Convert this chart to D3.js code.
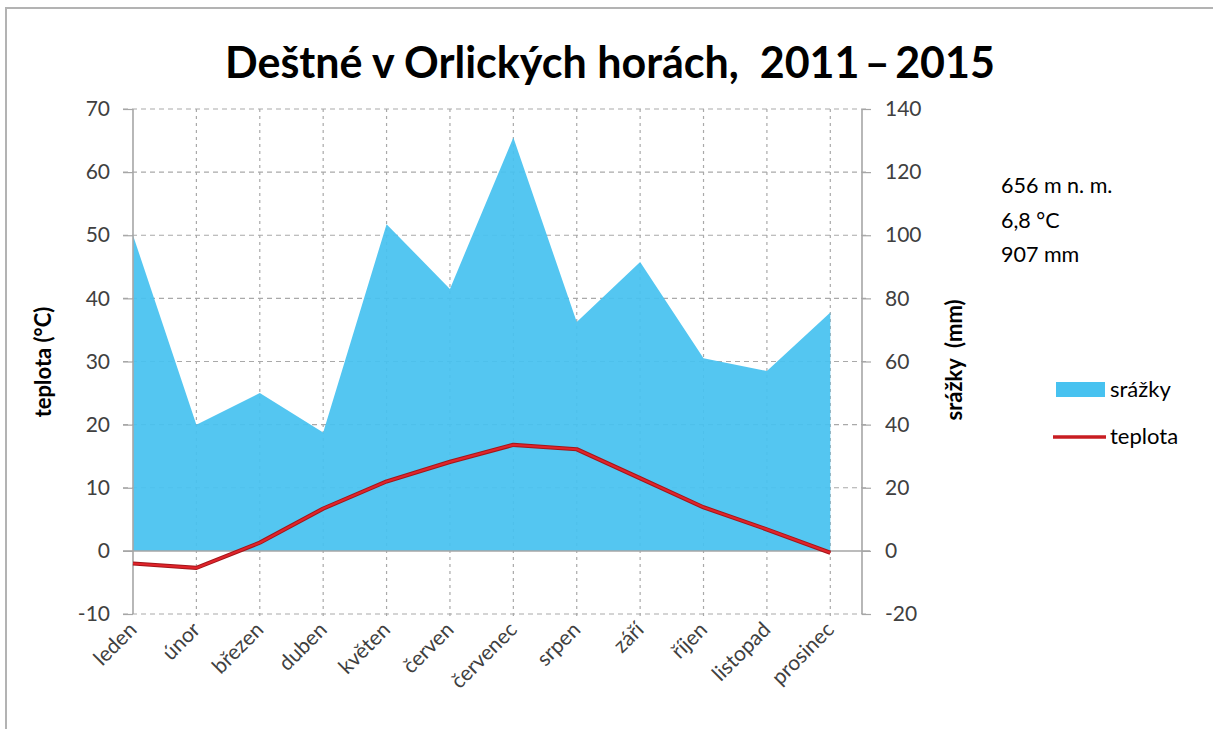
<!DOCTYPE html>
<html>
<head>
<meta charset="utf-8">
<script src="https://cdn.jsdelivr.net/npm/d3@7"></script>
<style>
  html, body { margin: 0; padding: 0; background: #fff; }
  svg { display: block; font-family: Lato, "Open Sans", sans-serif; }
</style>
</head>
<body>
<svg id="chart" width="1213" height="729"></svg>
<script>
// Monthly climate normals, Deštné v Orlických horách (2011–2015)
const months = ["leden", "únor", "březen", "duben", "květen", "červen",
                "červenec", "srpen", "září", "říjen", "listopad", "prosinec"];
const precipitation = [100, 40, 50, 37.5, 103.5, 83, 131, 72.5, 91.5, 61, 57, 75.5]; // mm
const temperature = [-2, -2.7, 1.3, 6.7, 11.0, 14.1, 16.8, 16.1, 11.5, 6.9, 3.4, -0.3]; // °C
const tempTicks = [-10, 0, 10, 20, 30, 40, 50, 60, 70];
const precTicks = [-20, 0, 20, 40, 60, 80, 100, 120, 140];
const stationInfo = ["656 m n. m.", "6,8 °C", "907 mm"];
const titleText = "Deštné v Orlických horách,  2011\u2009–\u20092015";

const svg = d3.select("#chart");
const plot = { left: 133, right: 862, top: 109, bottom: 614 };
const step = (plot.right - plot.left) / (months.length - 0.5);

const x = d3.scalePoint().domain(months)
  .range([plot.left, plot.left + step * (months.length - 1)]);
const yT = d3.scaleLinear().domain([-10, 70]).range([plot.bottom, plot.top]);
const yP = d3.scaleLinear().domain([-20, 140]).range([plot.bottom, plot.top]);

const gridColor = "#a9a9a9";
const axisColor = "#a6a6a6";
const labelColor = "#404040";
const plainNumber = d => String(d); // hyphen-minus for negatives

// outer frame (top and left edges)
svg.append("path")
  .attr("d", "M6,729 V8 H1213")
  .attr("fill", "none").attr("stroke", "#b3b3b3").attr("stroke-width", 2);

// title
svg.append("text")
  .attr("x", 610).attr("y", 78)
  .attr("text-anchor", "middle")
  .attr("font-size", 43).attr("font-weight", 700)
  .attr("fill", "#000")
  .style("white-space", "pre")
  .text(titleText);

// horizontal gridlines
svg.append("g")
  .selectAll("line").data(tempTicks.filter(d => d !== 0)).join("line")
  .attr("x1", plot.left - 10).attr("x2", plot.right + 8)
  .attr("y1", d => yT(d)).attr("y2", d => yT(d))
  .attr("stroke", gridColor).attr("stroke-width", 1.2)
  .attr("stroke-dasharray", "5,4");

// vertical gridlines at each month
svg.append("g")
  .selectAll("line").data(months.slice(1)).join("line")
  .attr("x1", d => x(d)).attr("x2", d => x(d))
  .attr("y1", plot.top).attr("y2", plot.bottom + 6)
  .attr("stroke", gridColor).attr("stroke-width", 1.2)
  .attr("stroke-dasharray", "3,4");

// precipitation area
const area = d3.area()
  .x((d, i) => x(months[i]))
  .y0(yP(0))
  .y1(d => yP(d));
svg.append("path")
  .datum(precipitation)
  .attr("d", area)
  .attr("fill", "#47c2f0")
  .attr("fill-opacity", 0.93);

// zero baseline
svg.append("line")
  .attr("x1", plot.left - 10).attr("x2", plot.right + 8)
  .attr("y1", yT(0)).attr("y2", yT(0))
  .attr("stroke", axisColor).attr("stroke-width", 1.5);

// axis lines
[plot.left, plot.right].forEach(px => {
  svg.append("line")
    .attr("x1", px).attr("x2", px)
    .attr("y1", plot.top).attr("y2", plot.bottom)
    .attr("stroke", axisColor).attr("stroke-width", 1.6);
});

// left axis (temperature)
const leftAxis = svg.append("g")
  .attr("transform", `translate(${plot.left},0)`)
  .call(d3.axisLeft(yT).tickValues(tempTicks).tickFormat(plainNumber).tickSize(10).tickPadding(13));
leftAxis.select(".domain").remove();
leftAxis.selectAll(".tick line").attr("stroke", axisColor).attr("stroke-width", 1.2);
leftAxis.selectAll(".tick text")
  .attr("font-family", "Lato, sans-serif").attr("font-size", 21).attr("fill", labelColor);

// right axis (precipitation)
const rightAxis = svg.append("g")
  .attr("transform", `translate(${plot.right},0)`)
  .call(d3.axisRight(yP).tickValues(precTicks).tickFormat(plainNumber).tickSize(9).tickPadding(14));
rightAxis.select(".domain").remove();
rightAxis.selectAll(".tick line").attr("stroke", axisColor).attr("stroke-width", 1.2);
rightAxis.selectAll(".tick text")
  .attr("font-family", "Lato, sans-serif").attr("font-size", 21).attr("fill", labelColor);

// month labels, rotated
svg.append("g")
  .selectAll("text").data(months).join("text")
  .attr("transform", d => `translate(${x(d) + 5},${plot.bottom + 17}) rotate(-45)`)
  .attr("text-anchor", "end")
  .attr("font-size", 21)
  .attr("fill", labelColor)
  .text(d => d);

// temperature line
const line = d3.line()
  .x((d, i) => x(months[i]))
  .y(d => yT(d));
svg.append("path")
  .datum(temperature)
  .attr("d", line)
  .attr("fill", "none")
  .attr("stroke", "#a3161a").attr("stroke-width", 4.2)
  .attr("stroke-linejoin", "round");
svg.append("path")
  .datum(temperature)
  .attr("d", line)
  .attr("fill", "none")
  .attr("stroke", "#e0242b").attr("stroke-width", 2.2)
  .attr("stroke-linejoin", "round");

// axis titles
svg.append("text")
  .attr("transform", "translate(51,362) rotate(-90)")
  .attr("text-anchor", "middle")
  .attr("font-size", 22).attr("font-weight", 700).attr("fill", "#000")
  .text("teplota (°C)");
svg.append("text")
  .attr("transform", "translate(962,360) rotate(-90)")
  .attr("text-anchor", "middle")
  .attr("font-size", 22).attr("font-weight", 700).attr("fill", "#000")
  .style("white-space", "pre")
  .text("srážky  (mm)");

// station info
svg.append("g")
  .selectAll("text").data(stationInfo).join("text")
  .attr("x", 1001)
  .attr("y", (d, i) => 193 + i * 34.5)
  .attr("font-size", 21.5).attr("fill", "#000")
  .text(d => d);

// legend
const legend = svg.append("g");
legend.append("rect")
  .attr("x", 1056).attr("y", 382).attr("width", 49).attr("height", 15)
  .attr("fill", "#47c2f0");
legend.append("text")
  .attr("x", 1110).attr("y", 397)
  .attr("font-size", 22).attr("fill", "#000")
  .text("srážky");
legend.append("line")
  .attr("x1", 1053).attr("x2", 1106).attr("y1", 437).attr("y2", 437)
  .attr("stroke", "#c81d22").attr("stroke-width", 3.5);
legend.append("text")
  .attr("x", 1110).attr("y", 444)
  .attr("font-size", 22).attr("fill", "#000")
  .text("teplota");
</script>
</body>
</html>
